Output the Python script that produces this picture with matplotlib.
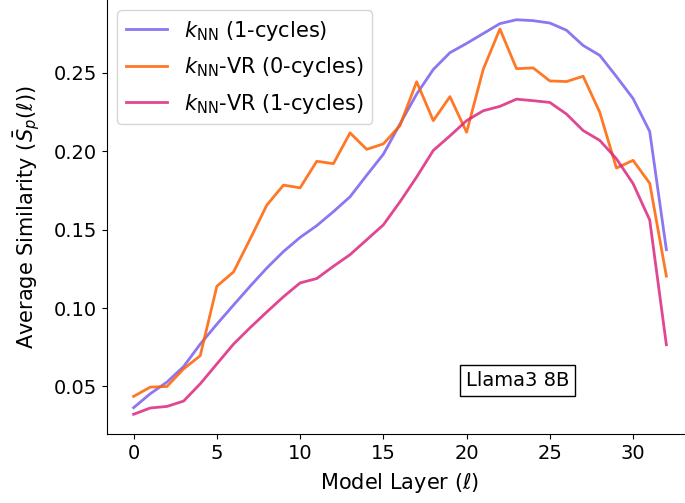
import matplotlib
matplotlib.use("Agg")
import matplotlib.pyplot as plt
import numpy as np

layers = list(range(33))

knn_1cycles = [0.0365, 0.0454, 0.0528, 0.0627, 0.0770, 0.0897, 0.1019, 0.1139, 0.1255, 0.1360,
               0.1450, 0.1525, 0.1614, 0.1709, 0.1846, 0.1980, 0.2173, 0.2363, 0.2520, 0.2627,
               0.2686, 0.2749, 0.2812, 0.2837, 0.2831, 0.2816, 0.2770, 0.2673, 0.2610, 0.2475,
               0.2335, 0.2125, 0.1372]

knn_vr_0cycles = [0.0437, 0.0496, 0.0500, 0.0612, 0.0696, 0.1139, 0.1230, 0.1440, 0.1656, 0.1783,
                  0.1766, 0.1935, 0.1920, 0.2116, 0.2011, 0.2046, 0.2163, 0.2442, 0.2194, 0.2347,
                  0.2120, 0.2521, 0.2778, 0.2525, 0.2530, 0.2447, 0.2443, 0.2477, 0.2247, 0.1892,
                  0.1941, 0.1795, 0.1203]

knn_vr_1cycles = [0.0323, 0.0363, 0.0373, 0.0407, 0.0517, 0.0644, 0.0770, 0.0875, 0.0975, 0.1072,
                  0.1160, 0.1188, 0.1266, 0.1340, 0.1435, 0.1530, 0.1677, 0.1835, 0.2004, 0.2097,
                  0.2194, 0.2257, 0.2285, 0.2331, 0.2321, 0.2310, 0.2236, 0.2131, 0.2068, 0.1951,
                  0.1793, 0.1561, 0.0766]

labels = [r"$k_{\mathrm{NN}}$ (1-cycles)", r"$k_{\mathrm{NN}}$-VR (0-cycles)", r"$k_{\mathrm{NN}}$-VR (1-cycles)"]
colors = ["#785EF0", "#FE6100", "#DC267F"]

fig = plt.figure(figsize=(6.85, 5.03), dpi=100)
ax = fig.add_axes([107/685, 69/503, (693-107)/685, 434/503])

for ys, lab, c in zip([knn_1cycles, knn_vr_0cycles, knn_vr_1cycles], labels, colors):
    ax.plot(layers, ys, color=c, label=lab, linewidth=2, alpha=0.85)

ax.spines["top"].set_visible(False)
ax.spines["right"].set_visible(False)
ax.set_xticks([0, 5, 10, 15, 20, 25, 30])
ax.set_yticks([0.05, 0.10, 0.15, 0.20, 0.25])
ax.tick_params(labelsize=14)
ax.set_xlabel(r"Model Layer ($\ell$)", fontsize=15, labelpad=6)
ax.set_ylabel(r"Average Similarity ($\bar{S}_p(\ell)$)", fontsize=15, labelpad=8)
ax.legend(loc="upper left", fontsize=15, labelspacing=0.6)
ax.text(0.701, 0.124, "Llama3 8B", transform=ax.transAxes, fontsize=14,
        ha="center", va="center",
        bbox=dict(boxstyle="square,pad=0.3", facecolor="white", edgecolor="black"))

fig.savefig("out.png", dpi=100)
